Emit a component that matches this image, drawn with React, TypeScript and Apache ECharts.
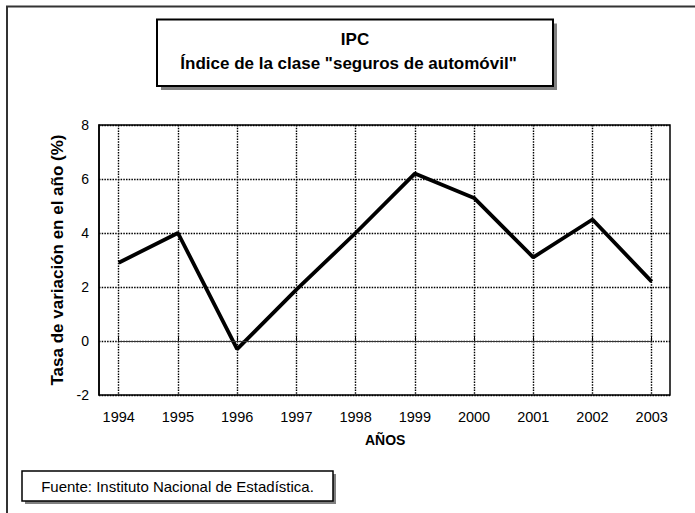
import React, { useEffect, useRef } from "react";
import * as echarts from "echarts";

const years = ["1994", "1995", "1996", "1997", "1998", "1999", "2000", "2001", "2002", "2003"];
const rates = [2.9, 4.0, -0.3, 1.9, 4.0, 6.2, 5.3, 3.1, 4.5, 2.2];
const yTicks = { min: -2, max: 8, interval: 2 };
const titleMain = "IPC";
const titleSub = 'Índice de la clase "seguros de automóvil"';
const yName = "Tasa de variación en el año (%)";
const xName = "AÑOS";
const source = "Fuente: Instituto Nacional de Estadística.";

const FONT = "'Liberation Sans', Arial, sans-serif";

export default function App() {
  const ref = useRef<HTMLDivElement>(null);
  useEffect(() => {
    if (!ref.current) return;
    const chart = echarts.init(ref.current, null, { renderer: "svg" });
    const dotted = { color: "#000", width: 1.4, type: [1.5, 1.2] as number[] };
    chart.setOption({
      animation: false,
      backgroundColor: "#fff",
      textStyle: { fontFamily: FONT, color: "#000" },
      grid: [
        { left: 99, top: 125, width: 571, height: 270, show: true, borderColor: "#000", borderWidth: 1.5, backgroundColor: "transparent" },
        { left: 118.7, top: 125, width: 533, height: 270 },
      ],
      xAxis: [
        { type: "value", gridIndex: 0, show: false, min: 0, max: 1 },
        {
          type: "category",
          gridIndex: 1,
          data: years,
          boundaryGap: false,
          axisLine: { show: false },
          axisTick: { show: true, inside: true, length: 4, lineStyle: { color: "#000", width: 1 } },
          axisLabel: { color: "#000", fontSize: 14.5, margin: 14, fontFamily: FONT },
          splitLine: { show: true, lineStyle: dotted },
          name: xName,
          nameLocation: "middle",
          nameGap: 38,
          nameTextStyle: { fontWeight: "bold", fontSize: 14, color: "#000", fontFamily: FONT },
        },
      ],
      yAxis: [
        {
          type: "value",
          gridIndex: 0,
          min: yTicks.min,
          max: yTicks.max,
          interval: yTicks.interval,
          axisLine: { show: true, lineStyle: { color: "#000", width: 1.5 } },
          axisTick: { show: false },
          axisLabel: { color: "#000", fontSize: 14, margin: 10, fontFamily: FONT },
          splitLine: { show: true, lineStyle: dotted },
        },
        { type: "value", gridIndex: 1, min: yTicks.min, max: yTicks.max, interval: yTicks.interval, show: false, splitLine: { show: false } },
      ],
      series: [
        {
          type: "line",
          xAxisIndex: 1,
          yAxisIndex: 1,
          data: rates,
          symbol: "none",
          lineStyle: { color: "#000", width: 3.8 },
          markLine: {
            silent: true,
            symbol: "none",
            label: { show: false },
            lineStyle: { color: "#333", width: 1, type: "solid" },
            data: [{ yAxis: 0 }],
          },
        },
      ],
      graphic: [
        { type: "polyline", shape: { points: [[7, 513], [7, 6.5], [695, 6.5]] }, style: { stroke: "#333", lineWidth: 2, fill: null } },
        { type: "text", x: 57, y: 260, rotation: Math.PI / 2, style: { text: yName, font: `bold 17px ${FONT}`, fill: "#000", align: "center", verticalAlign: "middle" } },
        { type: "rect", shape: { x: 161, y: 23.5, width: 396, height: 66.5 }, style: { fill: "#808080" } },
        { type: "rect", shape: { x: 157, y: 19.5, width: 396, height: 66.5 }, style: { fill: "#fff", stroke: "#000", lineWidth: 2 } },
        { type: "text", x: 355, y: 39, style: { text: titleMain, font: `bold 17px ${FONT}`, fill: "#000", align: "center", verticalAlign: "middle" } },
        { type: "text", x: 348.5, y: 63, style: { text: titleSub, font: `bold 17px ${FONT}`, fill: "#000", align: "center", verticalAlign: "middle" } },
        { type: "rect", shape: { x: 25, y: 474, width: 311, height: 30 }, style: { fill: "#808080" } },
        { type: "rect", shape: { x: 22, y: 471, width: 311, height: 30 }, style: { fill: "#fff", stroke: "#000", lineWidth: 1.5 } },
        { type: "text", x: 177.5, y: 486, style: { text: source, font: `15px ${FONT}`, fill: "#000", align: "center", verticalAlign: "middle" } },
      ],
    });
    return () => chart.dispose();
  }, []);
  return <div ref={ref} style={{ position: "fixed", left: 0, top: 0, width: 695, height: 513 }} />;
}
